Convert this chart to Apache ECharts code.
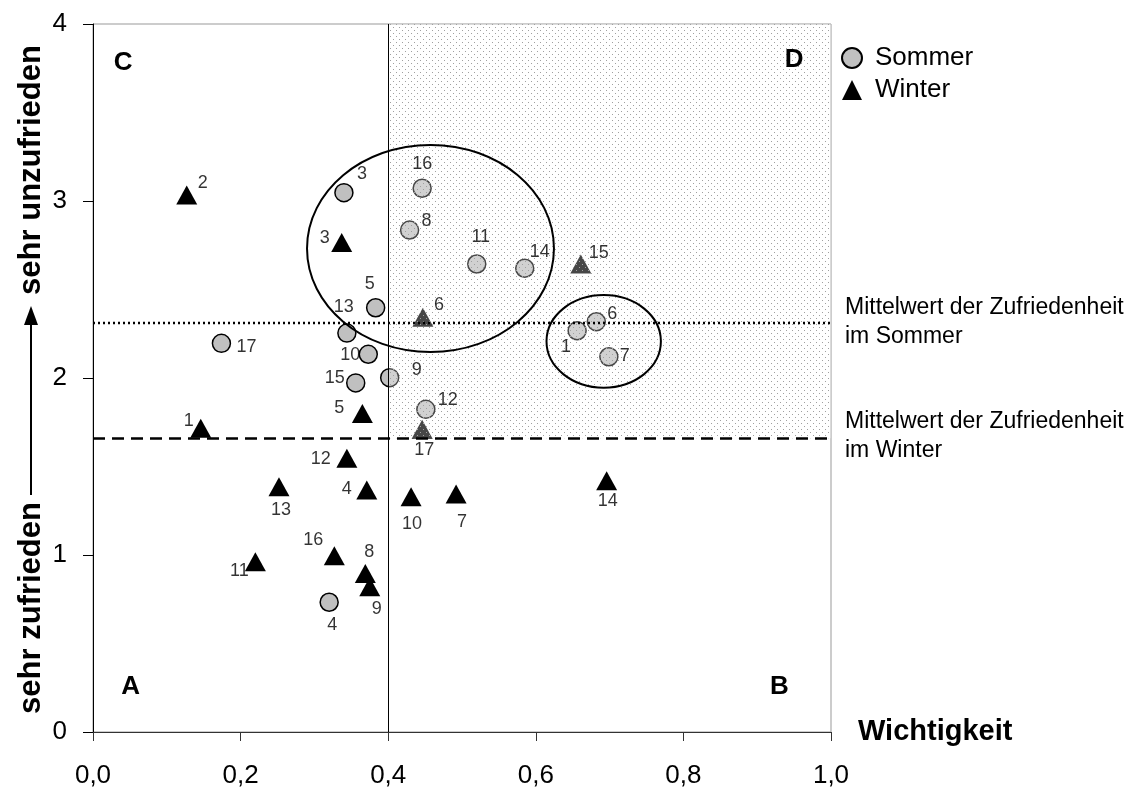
<!DOCTYPE html>
<html>
<head>
<meta charset="utf-8">
<script src="https://cdn.jsdelivr.net/npm/echarts@6.0.0/dist/echarts.min.js"></script>
<style>
    html, body { margin: 0; padding: 0; background: #fff; }
    #chart { width: 1138px; height: 793px; }
</style>
</head>
<body>
<div id="chart"></div>
<script>
    // Daten: Wichtigkeit (x) und Zufriedenheit (y) je Kriterium
    var sommerNr = [1, 3, 4, 5, 6, 7, 8, 9, 10, 11, 12, 13, 14, 15, 16, 17];
    var sommerX = [0.656, 0.340, 0.320, 0.383, 0.682, 0.699, 0.429, 0.402, 0.373, 0.520, 0.451, 0.344, 0.585, 0.356, 0.446, 0.174];
    var sommerY = [2.267, 3.047, 0.733, 2.397, 2.318, 2.120, 2.836, 2.002, 2.134, 2.644, 1.823, 2.254, 2.620, 1.972, 3.072, 2.196];

    var winterNr = [1, 2, 3, 4, 5, 6, 7, 8, 9, 10, 11, 12, 13, 14, 15, 16, 17];
    var winterX = [0.146, 0.127, 0.337, 0.371, 0.365, 0.447, 0.492, 0.369, 0.375, 0.431, 0.220, 0.344, 0.252, 0.696, 0.661, 0.327, 0.446];
    var winterY = [1.716, 3.034, 2.765, 1.367, 1.800, 2.343, 1.345, 0.896, 0.821, 1.329, 0.962, 1.546, 1.386, 1.420, 2.644, 0.996, 1.710];

    var sommerMittel = 2.305;
    var winterMittel = 1.66;
    var grenzeX = 0.4;

    var xTicks = [0, 0.2, 0.4, 0.6, 0.8, 1.0];
    var yTicks = [0, 1, 2, 3, 4];

    // Beschriftungsversatz der Punktnummern (Pixel)
    var sommerLabelOff = {1: [-11, 16], 3: [18, -19], 4: [3, 23], 5: [-6, -24], 6: [16, -8], 7: [16, -1], 8: [17, -9],
        9: [27, -8], 10: [-18, 1], 11: [4, -27], 12: [22, -9], 13: [-3, -26], 14: [15, -16], 15: [-21, -5], 16: [0, -24], 17: [25, 4]};
    var winterLabelOff = {1: [-12, -7], 2: [16, -12], 3: [-17, -5], 4: [-20, -1], 5: [-23, -5], 6: [16, -12], 7: [6, 28],
        8: [4, -21], 9: [7, 22], 10: [1, 27], 11: [-16, 9], 12: [-26, 1], 13: [2, 23], 14: [1, 20], 15: [18, -11],
        16: [-21, -16], 17: [2, 21]};

    var FONT = '"Liberation Sans", Arial, sans-serif';

    function punkte(nr, xs, ys, off) {
        return nr.map(function (n, i) {
            return {value: [xs[i], ys[i]], name: String(n), label: {offset: off[n]}};
        });
    }

    // Punktraster fuer Quadrant D
    var tile = document.createElement('canvas');
    tile.width = 6; tile.height = 6;
    var g = tile.getContext('2d');
    g.fillStyle = 'rgba(255,255,255,0.28)';
    g.fillRect(0, 0, 6, 6);
    g.fillStyle = '#a0a0a0';
    g.fillRect(0, 0, 1, 1);
    g.fillRect(3, 3, 1, 1);

    var myChart = echarts.init(document.getElementById('chart'));

    var labelStyle = {
        show: true, position: 'inside', formatter: '{b}',
        color: '#000', fontSize: 18, fontFamily: FONT
    };

    var option = {
        animation: false,
        textStyle: {fontFamily: FONT},
        grid: {
            left: 93, right: 307, top: 24, bottom: 61,
            containLabel: false, outerBoundsMode: 'none',
            show: true, borderColor: '#999', borderWidth: 1
        },
        legend: {
            orient: 'vertical', left: 836, top: 40,
            itemWidth: 20, itemHeight: 20, itemGap: 6,
            data: [{name: 'Sommer', icon: 'circle'}, {name: 'Winter', icon: 'triangle'}],
            textStyle: {fontSize: 26, color: '#000', fontFamily: FONT, padding: [0, 0, 0, 8]}
        },
        xAxis: {
            type: 'value', min: 0, max: 1, interval: 0.2,
            name: 'Wichtigkeit', nameLocation: 'end', nameGap: 27,
            nameTextStyle: {fontSize: 29, fontWeight: 'bold', color: '#000', fontFamily: FONT, verticalAlign: 'middle'},
            axisLine: {lineStyle: {color: '#333', width: 1}},
            axisTick: {show: true, inside: false, length: 9, lineStyle: {color: '#333'}},
            axisLabel: {
                fontSize: 26, color: '#000', margin: 31, fontFamily: FONT,
                formatter: function (v) { return v.toFixed(1).replace('.', ','); }
            },
            splitLine: {show: false}
        },
        yAxis: {
            type: 'value', min: 0, max: 4, interval: 1,
            axisLine: {show: true, lineStyle: {color: '#000', width: 1}},
            axisTick: {show: true, inside: false, length: 10, lineStyle: {color: '#000'}},
            axisLabel: {fontSize: 26, color: '#000', margin: 26, fontFamily: FONT},
            splitLine: {show: false}
        },
        series: [{
            name: 'Sommer', type: 'scatter', z: 2,
            symbol: 'circle', symbolSize: 18,
            itemStyle: {color: '#c0c0c0', borderColor: '#000', borderWidth: 1.5, opacity: 1},
            data: punkte(sommerNr, sommerX, sommerY, sommerLabelOff)
        }, {
            name: 'Winter', type: 'scatter', z: 2,
            symbol: 'triangle', symbolSize: [21, 19],
            itemStyle: {color: '#000', opacity: 1},
            data: punkte(winterNr, winterX, winterY, winterLabelOff)
        }, {
            // Quadrant D (wichtig & unzufrieden)
            name: 'QuadrantD', type: 'custom', z: 3, silent: true,
            data: [[grenzeX, winterMittel, 1, 4]],
            encode: {x: [0, 2], y: [1, 3]},
            renderItem: function (params, api) {
                var p1 = api.coord([api.value(0), api.value(3)]);
                var p2 = api.coord([api.value(2), api.value(1)]);
                return {
                    type: 'rect',
                    shape: {x: p1[0], y: p1[1], width: p2[0] - p1[0], height: p2[1] - p1[1]},
                    style: {fill: {image: tile, repeat: 'repeat'}}
                };
            },
            markLine: {
                silent: true, symbol: 'none', label: {show: false},
                data: [
                    {yAxis: sommerMittel, lineStyle: {type: [2, 3], width: 2.4, color: '#000'}},
                    {yAxis: winterMittel, lineStyle: {type: [12, 7], width: 2.5, color: '#000'}},
                    {xAxis: grenzeX, lineStyle: {type: 'solid', width: 1, color: '#000'}}
                ]
            }
        }, {
            name: 'SommerNr', type: 'scatter', z: 4, silent: true,
            symbolSize: 1, itemStyle: {color: 'rgba(0,0,0,0)'},
            label: labelStyle,
            data: punkte(sommerNr, sommerX, sommerY, sommerLabelOff)
        }, {
            name: 'WinterNr', type: 'scatter', z: 4, silent: true,
            symbolSize: 1, itemStyle: {color: 'rgba(0,0,0,0)'},
            label: labelStyle,
            data: punkte(winterNr, winterX, winterY, winterLabelOff)
        }]
    };
    myChart.setOption(option);

    // Anmerkungen: Ellipsen, Quadrantenbuchstaben, Mittelwert-Texte, y-Achsentitel
    var ellipsen = [
        {cx: 0.4573, cy: 2.732, rx: 0.1673, ry: 0.585},
        {cx: 0.692, cy: 2.207, rx: 0.0775, ry: 0.2616}
    ];
    var quadranten = [
        {t: 'A', x: 0.051, y: 0.256}, {t: 'B', x: 0.93, y: 0.256},
        {t: 'C', x: 0.041, y: 3.78}, {t: 'D', x: 0.95, y: 3.80}
    ];

    function px(x, y) { return myChart.convertToPixel({gridIndex: 0}, [x, y]); }

    var graphics = [];
    ellipsen.forEach(function (e) {
        var c = px(e.cx, e.cy), r = px(e.cx + e.rx, e.cy + e.ry);
        graphics.push({
            type: 'ellipse', z: 10, silent: true,
            shape: {cx: c[0], cy: c[1], rx: r[0] - c[0], ry: c[1] - r[1]},
            style: {fill: null, stroke: '#000', lineWidth: 2}
        });
    });
    quadranten.forEach(function (q) {
        var p = px(q.x, q.y);
        graphics.push({
            type: 'text', z: 10, silent: true, x: p[0], y: p[1],
            style: {text: q.t, font: 'bold 26px ' + FONT, fill: '#000', align: 'center', verticalAlign: 'middle'}
        });
    });
    [['Mittelwert der Zufriedenheit\nim Sommer', sommerMittel], ['Mittelwert der Zufriedenheit\nim Winter', winterMittel]]
        .forEach(function (m) {
            var p = px(1, m[1]);
            graphics.push({
                type: 'text', z: 10, silent: true, x: p[0] + 14, y: p[1] - 2,
                style: {text: m[0], font: '23px ' + FONT, lineHeight: 29, fill: '#000', align: 'left', verticalAlign: 'middle'}
            });
        });
    graphics.push({
        type: 'text', z: 10, silent: true, x: 31, y: 170, rotation: Math.PI / 2,
        style: {text: 'sehr unzufrieden', font: 'bold 31px ' + FONT, fill: '#000', align: 'center', verticalAlign: 'middle'}
    }, {
        type: 'text', z: 10, silent: true, x: 31, y: 608, rotation: Math.PI / 2,
        style: {text: 'sehr zufrieden', font: 'bold 31px ' + FONT, fill: '#000', align: 'center', verticalAlign: 'middle'}
    }, {
        type: 'line', z: 10, silent: true,
        shape: {x1: 31, y1: 495, x2: 31, y2: 322},
        style: {stroke: '#000', lineWidth: 2}
    }, {
        type: 'polygon', z: 10, silent: true,
        shape: {points: [[31, 306], [24, 325], [38, 325]]},
        style: {fill: '#000'}
    });
    myChart.setOption({graphic: graphics});

    window.onresize = function () { myChart.resize(); };
</script>
</body>
</html>
